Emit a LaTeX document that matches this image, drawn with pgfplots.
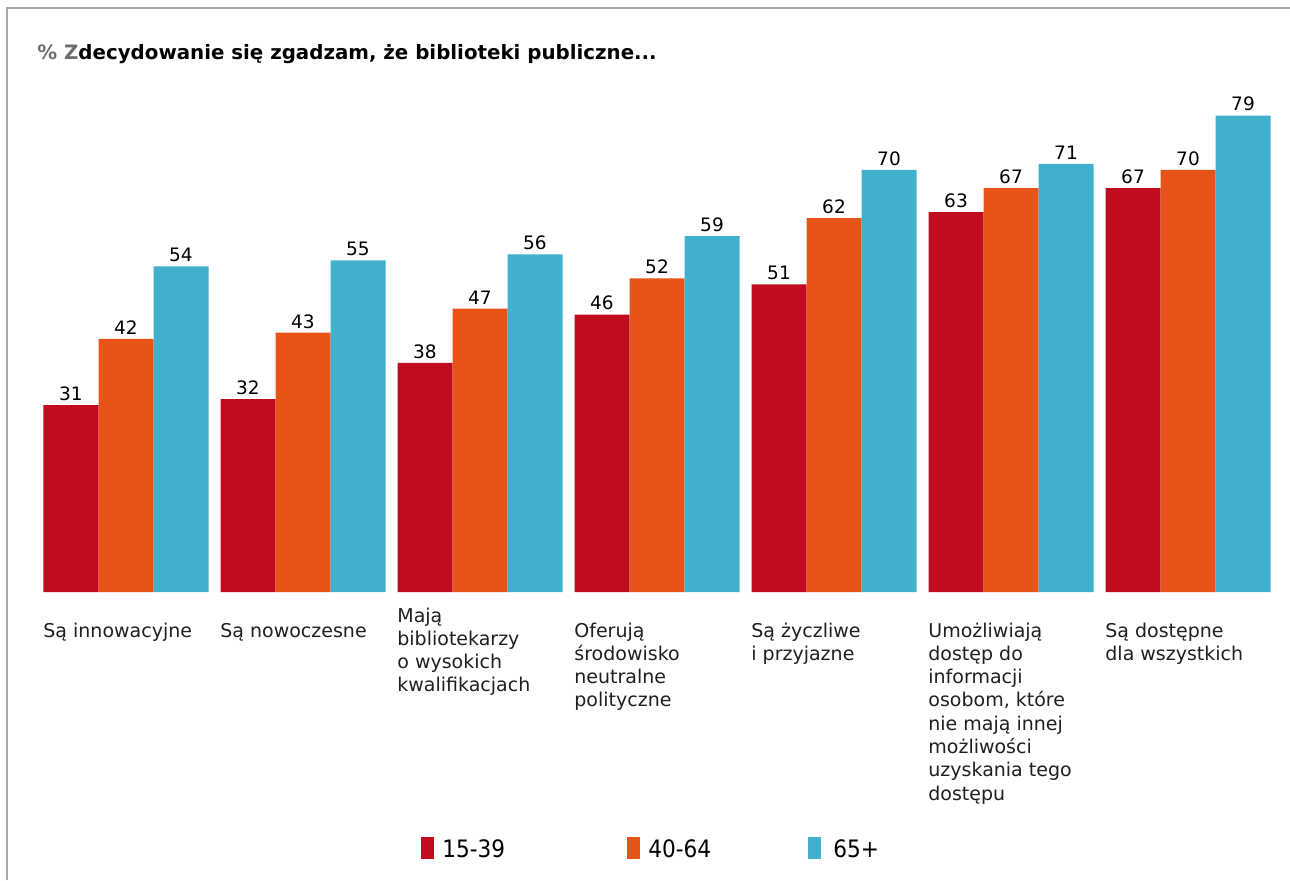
\documentclass[border=0pt]{standalone}
\usepackage{pgfplots}
\pgfplotsset{compat=1.18}
\usepackage{fontspec}
\setmainfont{DejaVu Sans}
\newfontfamily\cond{DejaVu Sans Condensed}
\definecolor{cRed}{RGB}{192,12,30}
\definecolor{cOrg}{RGB}{232,84,24}
\definecolor{cCyan}{RGB}{65,176,205}
\definecolor{frameg}{RGB}{170,170,170}
\definecolor{pctgrey}{RGB}{110,110,110}
\newcommand{\cl}[1]{\begin{tabular}[t]{@{}l@{}}#1\end{tabular}}
\begin{document}
\begin{tikzpicture}
\useasboundingbox (0pt,0pt) rectangle (645pt,-440pt);
\draw[frameg, line width=1pt] (3.5pt,-440pt) -- (3.5pt,-4pt) -- (645pt,-4pt);
\node[anchor=base west, inner sep=0pt, font=\bfseries\fontsize{9.9}{11}\selectfont] at (18.5pt,-29.5pt) {\textcolor{pctgrey}{\% Z}decydowanie się zgadzam, że biblioteki publiczne...};
\begin{axis}[
  at={(18.75pt,-296pt)}, anchor=south west,
  width=619.5pt, height=241.2pt, scale only axis,
  xmin=-0.5, xmax=6.5, ymin=0, ymax=80,
  ybar=0pt, bar width=27.5pt,
  axis line style={draw=none},
  ytick=\empty,
  xtick={0,...,6},
  major tick length=0pt,
  /pgf/number format/assume math mode=true,
  xticklabels={
    \cl{Są innowacyjne},
    \cl{Są nowoczesne},
    \raisebox{7.5pt}{\cl{Mają\\bibliotekarzy\\o wysokich\\kwalifikacjach}},
    \cl{Oferują\\środowisko\\neutralne\\polityczne},
    \cl{Są życzliwe\\i przyjazne},
    \cl{Umożliwiają\\dostęp do\\informacji\\osobom, które\\nie mają innej\\możliwości\\uzyskania tego\\dostępu},
    \cl{Są dostępne\\dla wszystkich}},
  x tick label style={anchor=base west, inner sep=0pt, xshift=-41.5pt, yshift=-22.5pt,
    font=\fontsize{9.5}{11.65}\selectfont, text=black!88},
  clip=false,
  nodes near coords,
  every node near coord/.append style={font=\fontsize{9.25}{11}\selectfont, inner sep=2pt, text=black},
  legend columns=3,
  legend image code/.code={\fill[#1,draw=none] (0pt,-4.5pt) rectangle (6.5pt,6.5pt);},
  legend style={at={(0.3095,-0.5328)}, anchor=west, draw=none, fill=none, inner sep=0pt,
    font=\cond\fontsize{12}{14}\selectfont,
    nodes={inner sep=0pt},
    /tikz/every odd column/.append style={column sep=4pt},
    /tikz/every even column/.append style={column sep=0pt}},
]
\addplot[fill=cRed, draw=none] coordinates {(0,31) (1,32) (2,38) (3,46) (4,51) (5,63) (6,67)};
\addplot[fill=cOrg, draw=none] coordinates {(0,42) (1,43) (2,47) (3,52) (4,62) (5,67) (6,70)};
\addplot[fill=cCyan, draw=none] coordinates {(0,54) (1,55) (2,56) (3,59) (4,70) (5,71) (6,79)};
\legend{\makebox[92.5pt][l]{15-39},\makebox[80pt][l]{40-64},\hspace{2pt}65+}
\end{axis}
\end{tikzpicture}
\end{document}
